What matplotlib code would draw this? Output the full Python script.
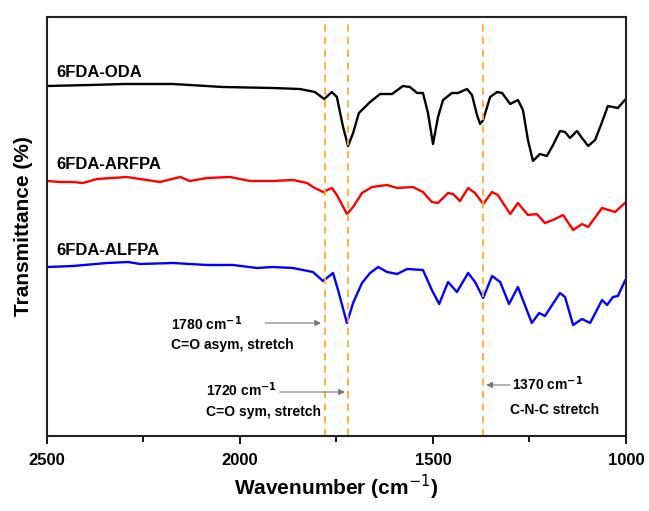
import matplotlib
matplotlib.use("Agg")
import matplotlib.pyplot as plt
from matplotlib.ticker import FixedLocator

plt.rcParams['font.family'] = ['Liberation Sans', 'DejaVu Sans']

# ---- data (wavenumber in cm^-1, transmittance in arbitrary offset units) ----
oda_wn = [2500, 2389, 2300, 2174, 2044, 1915, 1845, 1806, 1782, 1762, 1749, 1733, 1720,
          1707, 1692, 1663, 1637, 1606, 1578, 1560, 1541, 1526, 1513, 1500, 1487, 1474,
          1451, 1435, 1412, 1399, 1386, 1378, 1370, 1352, 1334, 1321, 1300, 1280, 1267,
          1254, 1241, 1223, 1205, 1189, 1171, 1158, 1145, 1127, 1114, 1098, 1080, 1062,
          1047, 1034, 1021, 1003, 1000]
oda_t = [350, 351, 352, 352, 349, 348, 347, 344, 337, 344, 339, 309, 290,
         303, 323, 334, 342, 342, 350, 349, 343, 343, 323, 292, 319, 336,
         343, 343, 347, 341, 321, 312, 316, 339, 344, 343, 332, 336, 326,
         296, 275, 282, 280, 291, 305, 304, 298, 305, 298, 290, 296, 314,
         330, 329, 328, 336, 337]

arfpa_wn = [2500, 2466, 2433, 2407, 2370, 2293, 2259, 2207, 2155, 2130, 2085, 2026, 1974,
            1915, 1863, 1826, 1811, 1785, 1762, 1749, 1723, 1707, 1684, 1658, 1619, 1593,
            1552, 1526, 1503, 1487, 1461, 1448, 1430, 1409, 1391, 1370, 1347, 1332, 1300,
            1280, 1254, 1231, 1210, 1189, 1163, 1137, 1114, 1098, 1062, 1028, 1003, 1000]
arfpa_t = [255, 254, 254, 253, 257, 259, 257, 254, 259, 255, 258, 259, 255,
           255, 256, 253, 249, 244, 248, 241, 222, 229, 243, 249, 251, 248,
           249, 244, 234, 233, 243, 242, 235, 248, 243, 232, 244, 241, 222,
           233, 221, 222, 213, 216, 221, 206, 212, 209, 228, 224, 233, 234]

alfpa_wn = [2500, 2433, 2345, 2290, 2259, 2174, 2085, 2018, 1956, 1915, 1863, 1811, 1785,
            1759, 1746, 1723, 1707, 1684, 1663, 1642, 1619, 1593, 1567, 1526, 1503, 1484,
            1461, 1438, 1409, 1391, 1370, 1347, 1326, 1303, 1280, 1244, 1225, 1210, 1171,
            1158, 1137, 1114, 1093, 1062, 1049, 1034, 1021, 1003, 1000]
alfpa_t = [169, 170, 173, 174, 172, 173, 171, 171, 168, 169, 168, 164, 155,
           163, 146, 113, 133, 153, 163, 169, 164, 162, 167, 166, 146, 132,
           154, 144, 163, 154, 138, 160, 154, 132, 149, 113, 123, 120, 143,
           139, 111, 117, 113, 136, 131, 139, 140, 155, 157]

series_names = ['6FDA-ODA', '6FDA-ARFPA', '6FDA-ALFPA']
series_colors = ['black', '#ff0000', '#0000ff']
label_y = [364, 272, 186]

peak_wn = [1780, 1720, 1370]
xticks_major = [2500, 2000, 1500, 1000]
xticks_minor = [2250, 1750, 1250]

# ---- figure ----
fig = plt.figure(figsize=(6.49, 5.11), dpi=100)
ax = fig.add_axes([47/649, 1 - 436/511, (626-47)/649, (436-17)/511])

for wn, t, c in zip([oda_wn, arfpa_wn, alfpa_wn], [oda_t, arfpa_t, alfpa_t], series_colors):
    ax.plot(wn, t, color=c, lw=1.7, solid_joinstyle='round', solid_capstyle='round')

for name, yy in zip(series_names, label_y):
    ax.text(2475, yy, name, fontsize=12, fontweight='bold', ha='left', va='center')

for p in peak_wn:
    ax.axvline(p, ymin=0, ymax=0.99, color='#FFAA33', lw=1.3, ls=(0, (4, 3)))

ax.set_xlim(2500, 1000)
ax.set_ylim(0, 419)
ax.xaxis.set_major_locator(FixedLocator(xticks_major))
ax.xaxis.set_minor_locator(FixedLocator(xticks_minor))
ax.set_yticks([])
ax.tick_params(axis='x', which='major', direction='out', length=6, width=1.3, labelsize=12, pad=6)
ax.tick_params(axis='x', which='minor', direction='out', length=4, width=1.3)
for lab in ax.get_xticklabels():
    lab.set_fontweight('bold')
for s in ax.spines.values():
    s.set_linewidth(1.5)
    s.set_color('#222222')

ax.set_xlabel('Wavenumber (cm$^{-1}$)', fontsize=15, fontweight='bold', labelpad=4)
ax.set_ylabel('Transmittance (%)', fontsize=15, fontweight='bold', labelpad=10)

# annotations
tfs = 10
ax.text(2178, 112, '1780 cm$^{\\mathbf{-1}}$', fontsize=tfs, fontweight='bold', ha='left', va='center')
ax.text(2178, 91, 'C=O asym, stretch', fontsize=tfs, fontweight='bold', ha='left', va='center')
ax.annotate('', xy=(1790, 113), xytext=(1935, 113),
            arrowprops=dict(arrowstyle='-|>', color='#777777', lw=0.8, mutation_scale=9,
                            shrinkA=0, shrinkB=0))
ax.text(2088, 46, '1720 cm$^{\\mathbf{-1}}$', fontsize=tfs, fontweight='bold', ha='left', va='center')
ax.text(2088, 24, 'C=O sym, stretch', fontsize=tfs, fontweight='bold', ha='left', va='center')
ax.annotate('', xy=(1728, 44), xytext=(1897, 44),
            arrowprops=dict(arrowstyle='-|>', color='#777777', lw=0.8, mutation_scale=9,
                            shrinkA=0, shrinkB=0))
ax.text(1296, 52, '1370 cm$^{\\mathbf{-1}}$', fontsize=tfs, fontweight='bold', ha='left', va='center')
ax.text(1300, 26, 'C-N-C stretch', fontsize=tfs, fontweight='bold', ha='left', va='center')
ax.annotate('', xy=(1362, 51), xytext=(1300, 51),
            arrowprops=dict(arrowstyle='-|>', color='#777777', lw=0.8, mutation_scale=9,
                            shrinkA=0, shrinkB=0))

fig.savefig('out.png', dpi=100)
